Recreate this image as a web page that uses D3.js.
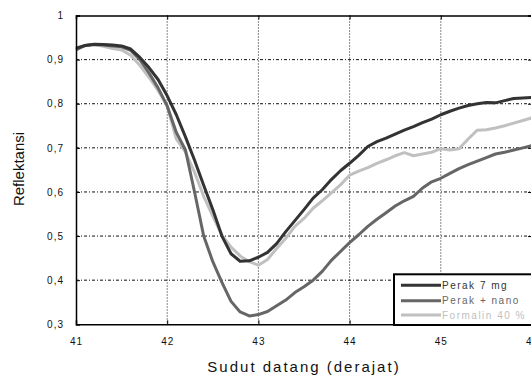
<!DOCTYPE html>
<html><head><meta charset="utf-8">
<script src="https://cdn.jsdelivr.net/npm/d3@7"></script>
<style>
html,body{margin:0;padding:0;background:#fff;}
svg{display:block;font-family:"Liberation Sans",Arial,sans-serif;}
</style></head>
<body><svg id="c" width="531" height="377"></svg>
<script>
const angles = [41.0,41.1,41.2,41.3,41.4,41.5,41.6,41.7,41.8,41.9,
  42.0,42.1,42.2,42.3,42.4,42.5,42.6,42.7,42.8,42.9,
  43.0,43.1,43.2,43.3,43.4,43.5,43.6,43.7,43.8,43.9,
  44.0,44.1,44.2,44.3,44.4,44.5,44.6,44.7,44.8,44.9,
  45.0,45.1,45.2,45.3,45.4,45.5,45.6,45.7,45.8,45.9,46.0];
const perak7mg = [0.926,0.932,0.935,0.934,0.933,0.931,0.924,0.905,0.882,0.855,
  0.818,0.775,0.725,0.672,0.615,0.560,0.500,0.460,0.443,0.444,
  0.452,0.463,0.483,0.510,0.535,0.560,0.586,0.605,0.628,0.648,
  0.665,0.683,0.703,0.714,0.722,0.731,0.740,0.748,0.757,0.765,
  0.775,0.783,0.790,0.796,0.800,0.803,0.802,0.807,0.812,0.813,0.814];
const perakNano = [0.922,0.932,0.934,0.933,0.931,0.929,0.921,0.900,0.870,0.836,
  0.795,0.735,0.695,0.600,0.500,0.442,0.395,0.352,0.328,0.319,
  0.322,0.329,0.342,0.355,0.372,0.385,0.400,0.420,0.445,0.465,
  0.485,0.503,0.522,0.538,0.553,0.568,0.580,0.590,0.609,0.623,
  0.631,0.642,0.653,0.662,0.670,0.678,0.686,0.690,0.695,0.700,0.705];
const formalin = [0.924,0.932,0.934,0.930,0.925,0.922,0.910,0.887,0.860,0.830,
  0.795,0.720,0.690,0.645,0.590,0.545,0.502,0.475,0.455,0.442,
  0.434,0.447,0.472,0.495,0.522,0.540,0.563,0.580,0.598,0.616,
  0.638,0.647,0.655,0.665,0.673,0.682,0.689,0.682,0.686,0.690,
  0.698,0.695,0.698,0.720,0.740,0.741,0.745,0.750,0.756,0.762,0.768];
const seriesNames = ["Perak 7 mg","Perak + nano","Formalin 40 %"];
const seriesColors = ["#333333","#666666","#c0c0c0"];
const xTicks = [41,42,43,44,45,46];
const yTicks = [0.3,0.4,0.5,0.6,0.7,0.8,0.9,1];
const xTitle = "Sudut datang (derajat)";
const yTitle = "Reflektansi";

const svg = d3.select("#c");
const L=76, R=532, T=15.5, B=324.3;
const x = d3.scaleLinear().domain([41,46]).range([L,R]);
const y = d3.scaleLinear().domain([0.3,1]).range([B,T]);

// grid
const g = svg.append("g");
g.selectAll(".hg").data(yTicks.filter(v=>v>0.3&&v<1)).enter().append("line")
  .attr("x1",L).attr("x2",R).attr("y1",d=>y(d)).attr("y2",d=>y(d))
  .attr("stroke","#111").attr("stroke-width",1).attr("stroke-dasharray","3,2,1,2");
g.selectAll(".vg").data(xTicks.filter(v=>v>41&&v<46)).enter().append("line")
  .attr("x1",d=>x(d)).attr("x2",d=>x(d)).attr("y1",T).attr("y2",B)
  .attr("stroke","#111").attr("stroke-width",1).attr("stroke-dasharray","1,2");

// series
const data = [perak7mg, perakNano, formalin];
const line = d3.line().x((d,i)=>x(angles[i])).y(d=>y(d));
[2,1,0].forEach(k=>{
  svg.append("path").datum(data[k]).attr("d",line)
    .attr("fill","none").attr("stroke",seriesColors[k]).attr("stroke-width",3)
    .attr("stroke-linejoin","round");
});

// axes
const fmt = d => d===1 ? "1" : d3.format(".1f")(d).replace(".",",");
const ax = svg.append("g").attr("transform",`translate(0,${B})`)
  .call(d3.axisBottom(x).tickValues(xTicks).tickSize(-4).tickPadding(14).tickFormat(d3.format("d")));
const ay = svg.append("g").attr("transform",`translate(${L},0)`)
  .call(d3.axisLeft(y).tickValues(yTicks).tickSize(-4).tickPadding(12).tickFormat(fmt));
const ayr = svg.append("g").attr("transform",`translate(${R},0)`)
  .call(d3.axisRight(y).tickValues(yTicks).tickSize(-4).tickFormat(""));
const axt = svg.append("g").attr("transform",`translate(0,${T})`)
  .call(d3.axisTop(x).tickValues(xTicks).tickSize(-4).tickFormat(""));
[ax,ay,ayr,axt].forEach(a=>{
  a.select(".domain").attr("stroke","#000").attr("stroke-width",1.5);
  a.selectAll(".tick line").attr("stroke","#000");
  a.selectAll("text").attr("font-family","Liberation Sans, Arial, sans-serif")
    .attr("font-size",10).attr("fill","#111").attr("letter-spacing","1px");
});

// titles
svg.append("text").attr("x",(L+R)/2).attr("y",372).attr("text-anchor","middle")
  .attr("font-size",15).attr("letter-spacing","2px").attr("fill","#111").text(xTitle);
svg.append("text").attr("transform","translate(24,169) rotate(-90)").attr("text-anchor","middle")
  .attr("font-size",15).attr("fill","#111").text(yTitle);

// legend
const lg = svg.append("g");
lg.append("rect").attr("x",394).attr("y",274.3).attr("width",140).attr("height",50.7)
  .attr("fill","#fff").attr("stroke","#000").attr("stroke-width",2);
const rows = [285.3,300.7,315];
seriesNames.forEach((n,i)=>{
  lg.append("line").attr("x1",401).attr("x2",441).attr("y1",rows[i]).attr("y2",rows[i])
    .attr("stroke",seriesColors[i]).attr("stroke-width",3);
  lg.append("text").attr("x",442).attr("y",rows[i]+3.5).attr("font-size",10)
    .attr("letter-spacing","1.5px").attr("fill",seriesColors[i]).text(n);
});
</script></body></html>
